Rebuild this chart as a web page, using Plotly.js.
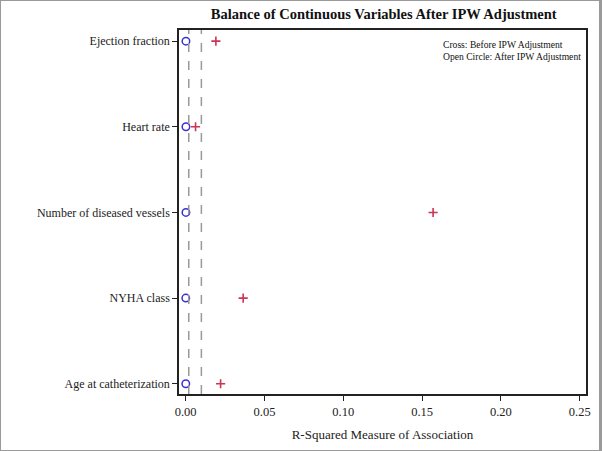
<!DOCTYPE html>
<html>
<head>
<meta charset="utf-8">
<script src="https://cdn.plot.ly/plotly-3.0.1.min.js"></script>
<style>
  body { margin: 0; background: white; }
  #chart { width: 602px; height: 451px; box-sizing: border-box; border: 1px solid #9a9a9a; border-right: 3px solid #9a9a9a; }
</style>
</head>
<body>
<div id="chart"></div>
<script>
// Variablen (von unten nach oben)
const variables = ["Age at catheterization", "NYHA class", "Number of diseased vessels", "Heart rate", "Ejection fraction"];
const beforeIPW = [0.0222, 0.0365, 0.157, 0.0063, 0.0192];
const afterIPW = [0.0001, 0.0001, 0.0002, 0.0002, 0.0002];
const refLines = [0.002, 0.01];
const xTicks = [0, 0.05, 0.10, 0.15, 0.20, 0.25];

const yPos = variables.map((v, i) => i);

const traces = [
  {
    type: "scatter",
    mode: "markers",
    x: afterIPW,
    y: yPos,
    marker: { symbol: "circle-open", size: 7.5, color: "#3a33d0", line: { width: 1.5 } },
    name: "After",
  },
  {
    type: "scatter",
    mode: "markers",
    x: beforeIPW,
    y: yPos,
    marker: { symbol: "cross-thin-open", size: 6.5, color: "#cc3355", line: { width: 1.6, color: "#cc3355" } },
    name: "Before",
  },
];

// gestrichelte Referenzlinien
const shapes = refLines.map((v) => ({
  type: "line",
  xref: "x",
  yref: "paper",
  x0: v,
  x1: v,
  y0: 0,
  y1: 1,
  line: { color: "#999999", width: 1.5, dash: "dash" },
}));

Plotly.newPlot("chart", traces, {
  width: 598,
  height: 449,
  paper_bgcolor: "white",
  plot_bgcolor: "white",
  showlegend: false,
  margin: { l: 178, r: 13, t: 29, b: 56 },
  font: { family: "Liberation Serif, Times New Roman, serif", color: "#222", size: 12 },
  title: {
    text: "<b>Balance of Continuous Variables After IPW Adjustment</b>",
    x: 0.64,
    xanchor: "center",
    y: 0.983,
    yanchor: "top",
    font: { size: 14.5, family: "Liberation Serif, serif", color: "#111" },
  },
  xaxis: {
    range: [-0.0042, 0.254],
    tickvals: xTicks,
    ticktext: xTicks.map((t) => t.toFixed(2)),
    ticks: "outside",
    ticklen: 5,
    tickcolor: "#222",
    tickfont: { size: 12.5 },
    showgrid: false,
    zeroline: false,
    showline: true,
    linecolor: "#222",
    linewidth: 1.5,
    mirror: true,
    title: { text: "R-Squared Measure of Association", font: { size: 13 }, standoff: 12 },
  },
  yaxis: {
    range: [-0.12, 4.13],
    tickvals: yPos,
    ticktext: variables,
    ticks: "outside",
    ticklen: 5,
    tickcolor: "#222",
    showgrid: false,
    zeroline: false,
    showline: true,
    linecolor: "#222",
    linewidth: 1.5,
    mirror: true,
  },
  shapes: shapes,
  annotations: [
    {
      xref: "paper",
      yref: "paper",
      x: 0.643,
      y: 0.98,
      xanchor: "left",
      yanchor: "top",
      align: "left",
      showarrow: false,
      text: "Cross: Before IPW Adjustment<br>Open Circle: After IPW Adjustment",
      font: { size: 9.6, color: "#111" },
    },
  ],
}, { displayModeBar: false });
</script>
</body>
</html>
